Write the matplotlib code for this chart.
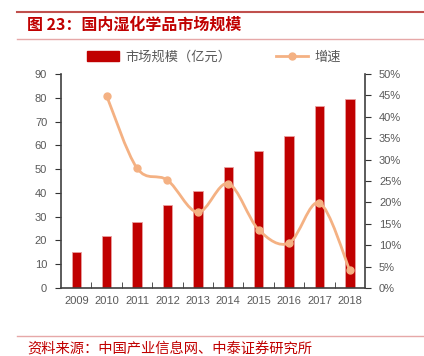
import numpy as np
import matplotlib.pyplot as plt
from matplotlib.path import Path
from matplotlib.patches import PathPatch, Patch
from matplotlib.lines import Line2D

plt.rcParams['font.family'] = ['Noto Sans CJK SC', 'DejaVu Sans']

years = ['2009', '2010', '2011', '2012', '2013', '2014', '2015', '2016', '2017', '2018']
market = [15.0, 21.7, 27.8, 34.8, 41.0, 50.9, 57.7, 63.8, 76.4, 79.6]   # 亿元
growth = [None, 44.9, 28.0, 25.2, 17.7, 24.4, 13.6, 10.5, 19.9, 4.1]    # %

red = '#C00000'
orange = '#F4B183'
grey = '#595959'

fig = plt.figure(figsize=(4.24, 3.56), dpi=100)
ax = fig.add_axes([0.144, 0.191, 0.717, 0.601])
x = np.arange(len(years))
ax.bar(x, market, width=0.31, color=red, edgecolor='#E9A0A0', linewidth=0.6, zorder=2)
ax.set_xlim(-0.5, len(years) - 0.5)
ax.set_ylim(0, 90)
ax.set_yticks(range(0, 91, 10))
ax.set_xticks(x)
ax.set_xticklabels(years)
ax.set_xticks(np.arange(0.5, len(years) - 1, 1), minor=True)
ax.tick_params(axis='x', which='major', length=0, pad=6)
ax.tick_params(axis='x', which='minor', direction='in', length=4, color='#333333')
ax.tick_params(axis='y', direction='out', length=4, color='#333333', pad=6)

ax2 = ax.twinx()
ax2.set_ylim(0, 50)
ax2.set_yticks(range(0, 51, 5))
ax2.set_yticklabels([f'{v}%' for v in range(0, 51, 5)])
ax2.tick_params(axis='y', direction='out', length=4, color='#333333', pad=6)

# smooth line through growth points (Catmull-Rom as cubic Bezier)
gx = [i for i, g in enumerate(growth) if g is not None]
gy = [g for g in growth if g is not None]
pts = list(zip(gx, gy))
verts = [pts[0]]
codes = [Path.MOVETO]
for i in range(len(pts) - 1):
    p0 = pts[i - 1] if i > 0 else pts[i]
    p1, p2 = pts[i], pts[i + 1]
    p3 = pts[i + 2] if i + 2 < len(pts) else pts[i + 1]
    c1 = (p1[0] + (p2[0] - p0[0]) / 6, p1[1] + (p2[1] - p0[1]) / 6)
    c2 = (p2[0] - (p3[0] - p1[0]) / 6, p2[1] - (p3[1] - p1[1]) / 6)
    verts += [c1, c2, p2]
    codes += [Path.CURVE4] * 3
ax2.add_patch(PathPatch(Path(verts, codes), facecolor='none', edgecolor=orange, lw=2, zorder=3))
ax2.plot(gx, gy, 'o', color=orange, markersize=5, zorder=4)

for a in (ax, ax2):
    a.spines['top'].set_visible(False)
    for s in ('left', 'right', 'bottom'):
        a.spines[s].set_color('#404040')
        a.spines[s].set_linewidth(1.2)
    for lab in a.get_xticklabels() + a.get_yticklabels():
        lab.set_family(['Liberation Sans', 'DejaVu Sans'])
        lab.set_fontsize(8)
        lab.set_color(grey)
ax.spines['right'].set_visible(False)
ax2.spines['left'].set_visible(False)
ax2.spines['bottom'].set_visible(False)

handles = [Patch(facecolor=red, edgecolor=red),
           Line2D([], [], color=orange, lw=2, marker='o', markersize=5)]
fig.legend(handles, ['市场规模（亿元）', '增速'], loc='center', bbox_to_anchor=(0.505, 0.84),
           ncol=2, frameon=False, fontsize=9.5, labelcolor=grey, columnspacing=3.4,
           handlelength=2.4, handleheight=0.75, handletextpad=0.5)

# header / footer decoration
fig.add_artist(Line2D([0.04, 1], [1 - 12 / 356] * 2, color='#C0504D', lw=1.5))
fig.add_artist(Line2D([0.04, 1], [1 - 39 / 356] * 2, color='#E6A8A8', lw=1))
fig.add_artist(Line2D([0.04, 1], [1 - 336 / 356] * 2, color='#E6A8A8', lw=1))
fig.text(27 / 424, 1 - 25 / 356, '图 23：国内湿化学品市场规模', color=red, fontsize=11.5,
         fontweight='bold', va='center', ha='left')
fig.text(27 / 424, 1 - 350 / 356, '资料来源：中国产业信息网、中泰证券研究所', color=red,
         fontsize=10.3, va='center', ha='left')

fig.savefig('out.png', dpi=100)
